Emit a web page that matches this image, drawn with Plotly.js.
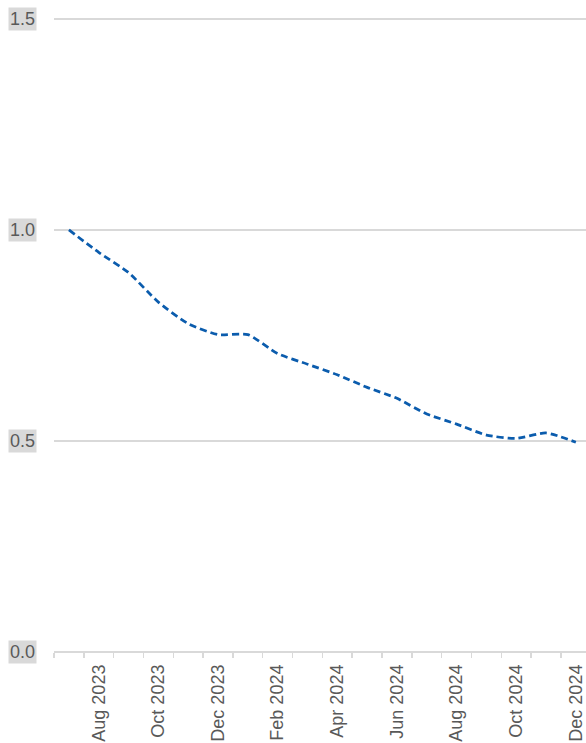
<!DOCTYPE html>
<html>
<head>
<meta charset="utf-8">
<script src="https://cdn.plot.ly/plotly-3.0.1.min.js"></script>
<style>
html,body{margin:0;padding:0;background:#fff;}
#chart{width:586px;height:743px;}
</style>
</head>
<body>
<div id="chart"></div>
<script>
// Data
const months = ["Jul 2023","Aug 2023","Sep 2023","Oct 2023","Nov 2023","Dec 2023",
                "Jan 2024","Feb 2024","Mar 2024","Apr 2024","May 2024","Jun 2024",
                "Jul 2024","Aug 2024","Sep 2024","Oct 2024","Nov 2024","Dec 2024"];
const values = [1.000, 0.947, 0.899, 0.829, 0.778, 0.752,
                0.752, 0.707, 0.682, 0.657, 0.627, 0.601,
                0.564, 0.540, 0.514, 0.506, 0.519, 0.497];
const yTicks = [0.0, 0.5, 1.0, 1.5];
const yTickText = ["0.0", "0.5", "1.0", "1.5"];

const xIdx = months.map((m, i) => i);
const labelIdx = xIdx.filter(i => i % 2 === 1);
const labelText = labelIdx.map(i => months[i]);

const FONT = "Liberation Sans, Arial, sans-serif";
const GREY = "#595959";
const GRID = "#d9d9d9";

const trace = {
  type: "scatter",
  mode: "lines",
  x: xIdx,
  y: values,
  line: {color: "#0b5cad", width: 2.75, dash: "7px,4px", shape: "spline", smoothing: 0.6},
  hoverinfo: "x+y"
};

const annotations = yTicks.map((v, i) => ({
  xref: "paper", yref: "y",
  x: 0, y: v,
  xanchor: "right", yanchor: "middle",
  xshift: -17,
  text: yTickText[i],
  showarrow: false,
  bgcolor: "#d9d9d9",
  borderpad: 1,
  font: {family: FONT, size: 18, color: GREY}
}));

const layout = {
  width: 586, height: 743,
  margin: {l: 54, r: 0, t: 16, b: 91},
  paper_bgcolor: "#ffffff",
  plot_bgcolor: "#ffffff",
  showlegend: false,
  font: {family: FONT, size: 18, color: GREY},
  xaxis: {
    type: "linear",
    range: [-0.5, 17.34],
    tickmode: "array",
    tickvals: labelIdx,
    ticktext: labelText,
    tickangle: -90,
    ticks: "",
    ticklen: 0,
    ticklabelstandoff: 8,
    tickfont: {family: FONT, size: 18, color: GREY},
    showgrid: false,
    zeroline: false,
    showline: false,
    minor: {tick0: -0.5, dtick: 1, ticks: "outside", ticklen: 5, tickcolor: GRID, tickwidth: 1.5, showgrid: false},
    fixedrange: true
  },
  yaxis: {
    range: [0, 1.507],
    tickmode: "array",
    tickvals: yTicks,
    showticklabels: false,
    ticks: "",
    showgrid: true,
    gridcolor: GRID,
    gridwidth: 1.75,
    zeroline: true,
    zerolinecolor: GRID,
    zerolinewidth: 1.75,
    showline: false,
    fixedrange: true
  },
  annotations: annotations
};

Plotly.newPlot("chart", [trace], layout, {displayModeBar: false, staticPlot: true});
</script>
</body>
</html>
